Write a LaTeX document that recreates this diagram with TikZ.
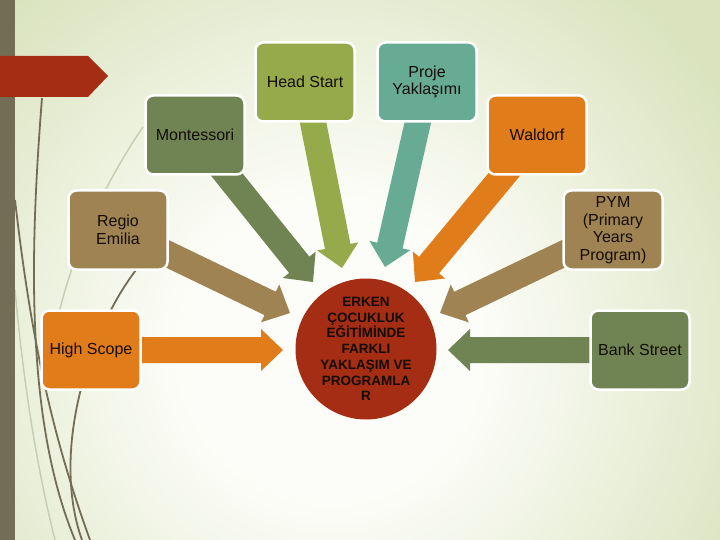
\documentclass[tikz,border=0pt]{standalone}
\usepackage{fontspec}
\setmainfont{Liberation Sans}
\usetikzlibrary{calc}
\pgfdeclarelayer{back}
\pgfdeclarelayer{bg}
\pgfsetlayers{back,bg,main}
\definecolor{bgin}{RGB}{252,253,248}
\definecolor{bgout}{RGB}{218,227,190}
\definecolor{barc}{RGB}{116,109,85}
\definecolor{redc}{RGB}{165,45,19}
\definecolor{oliveL}{RGB}{150,170,75}
\definecolor{tealc}{RGB}{103,171,149}
\definecolor{oliveD}{RGB}{112,132,83}
\definecolor{orangec}{RGB}{225,124,27}
\definecolor{brownc}{RGB}{160,131,82}
\definecolor{palec}{RGB}{200,206,180}
\definecolor{txt}{RGB}{20,12,8}
\pgfdeclareradialshading{bgshade}{\pgfpoint{0bp}{0bp}}{color(0bp)=(bgin); color(8bp)=(bgin); color(25bp)=(bgout); color(50bp)=(bgout)}
\newcommand{\blockarrow}[3]{%
\fill[#1] let \p1=(#2), \p2=(#3), \n1={atan2(\y2-\y1,\x2-\x1)}, \n2={veclen(\x2-\x1,\y2-\y1)-22} in
 ($(\p1)+({\n1+90}:13pt)$) -- ($(\p1)+({\n1}:{\n2*1pt})+({\n1+90}:13pt)$)
 -- ($(\p1)+({\n1}:{\n2*1pt})+({\n1+90}:21pt)$) -- (\p2)
 -- ($(\p1)+({\n1}:{\n2*1pt})+({\n1-90}:21pt)$) -- ($(\p1)+({\n1}:{\n2*1pt})+({\n1-90}:13pt)$)
 -- ($(\p1)+({\n1-90}:13pt)$) -- cycle;}
\begin{document}
\begin{tikzpicture}[x=1pt,y=-1pt,
  box/.style={draw=white,line width=2.5pt,rounded corners=8pt,minimum width=99pt,minimum height=79pt,
    inner sep=2pt,align=center,text=txt,font=\fontsize{16}{17.5}\selectfont},
  deco/.style={barc,line width=1.8pt},
  pale/.style={palec,line width=1.5pt}]
\useasboundingbox (0,0) rectangle (720,540);
\begin{pgfonlayer}{back}
\begin{scope}
\clip (0,0) rectangle (720,540);
\fill[bgout] (0,0) rectangle (720,540);
\shade[shading=bgshade] (330,350) circle (470);
\draw[pale] (143,127) .. controls (100,190) and (70,260) .. (55,330);
\draw[pale] (15,290) .. controls (25,400) and (40,480) .. (55,540);
\draw[deco] (42,98) .. controls (30,250) and (25,420) .. (75,540);
\draw[deco] (15,200) .. controls (30,330) and (50,430) .. (90,540);
\draw[deco] (136,270) .. controls (90,330) and (50,450) .. (82,540);
\fill[barc] (0,0) rectangle (15,540);
\fill[redc] (0,56) -- (88,56) -- (108,76) -- (88,97) -- (0,97) -- cycle;
\end{scope}
\end{pgfonlayer}
% nodes
\node[box,fill=oliveL] (hs) at (305,82) {Head Start};
\node[box,fill=tealc] (pj) at (427,82) {Proje\\Yaklaşımı};
\node[box,fill=oliveD] (mo) at (195,135) {Montessori};
\node[box,fill=orangec] (wa) at (537,135) {Waldorf};
\node[box,fill=brownc] (re) at (118,230) {Regio\\Emilia};
\node[box,fill=brownc] (py) at (613,230) {PYM\\(Primary\\Years\\Program)};
\node[box,fill=orangec] (hi) at (91,350) {High Scope};
\node[box,fill=oliveD] (bs) at (640,350) {Bank Street};
\node[circle,fill=redc,minimum size=141pt,inner sep=0pt,align=center,text=txt,
  font=\bfseries\fontsize{13.5}{15.7}\selectfont] (ce) at (366,349)
  {ERKEN\\ÇOCUKLUK\\EĞİTİMİNDE\\FARKLI\\YAKLAŞIM VE\\PROGRAMLA\\R};
% arrow tips
\coordinate (tmo) at (313,282);
\coordinate (ths) at (342,268);
\coordinate (tpj) at (385,267);
\coordinate (twa) at (415,282);
\coordinate (tre) at (290,313);
\coordinate (tpy) at (440,313);
\coordinate (thi) at (283,350);
\coordinate (tbs) at (448,350);
\begin{pgfonlayer}{bg}
\blockarrow{oliveD}{mo}{tmo}
\blockarrow{oliveL}{hs}{ths}
\blockarrow{tealc}{pj}{tpj}
\blockarrow{orangec}{wa}{twa}
\blockarrow{brownc}{re}{tre}
\blockarrow{brownc}{py}{tpy}
\blockarrow{orangec}{hi}{thi}
\blockarrow{oliveD}{bs}{tbs}
\end{pgfonlayer}
\end{tikzpicture}
\end{document}
